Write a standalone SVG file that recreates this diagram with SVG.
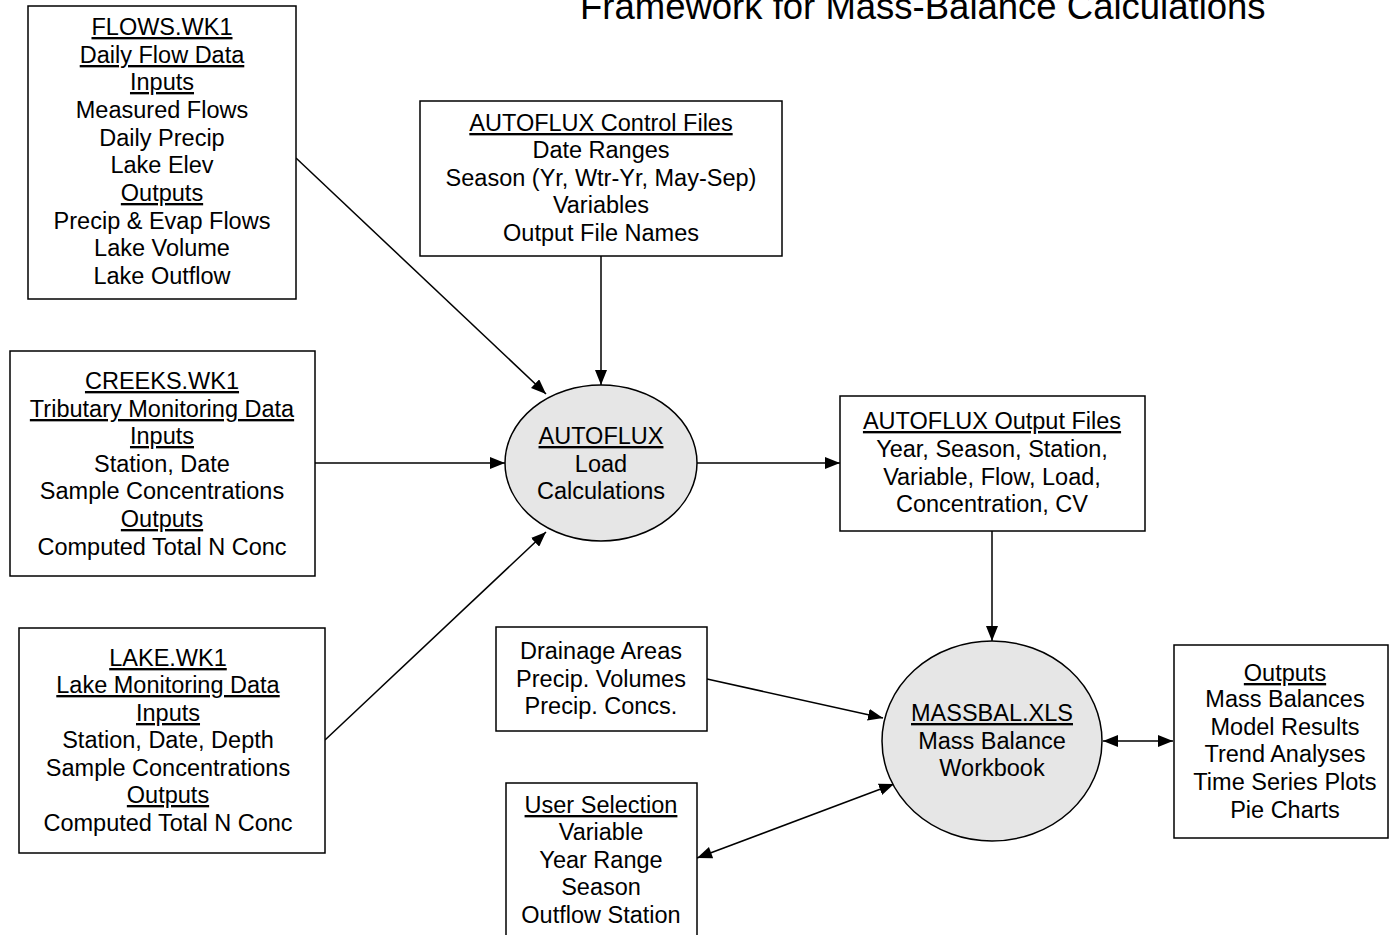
<svg xmlns="http://www.w3.org/2000/svg" width="1389" height="935" viewBox="0 0 1389 935">
<defs>
<style>
text{font-family:"Liberation Sans",Arial,sans-serif;font-size:23.5px;fill:#000;text-anchor:middle}
.u{text-decoration:underline}
.box{fill:#fff;stroke:#000;stroke-width:1.5}
.ell{fill:#e6e6e6;stroke:#000;stroke-width:1.5}
.c{stroke:#000;stroke-width:1.5;fill:none}
.t{font-size:36.5px;text-anchor:start}
</style>
<marker id="ae" markerUnits="userSpaceOnUse" markerWidth="16" markerHeight="12" refX="15" refY="6" orient="auto"><path d="M0,0 L15,6 L0,12 Z" fill="#000"/></marker>
<marker id="as" markerUnits="userSpaceOnUse" markerWidth="16" markerHeight="12" refX="0" refY="6" orient="auto"><path d="M15,0 L0,6 L15,12 Z" fill="#000"/></marker>
</defs>
<rect width="1389" height="935" fill="#fff"/>
<text class="t" x="580" y="19">Framework for Mass-Balance Calculations</text>
<g id="connectors">
<line class="c" x1="296" y1="158" x2="546" y2="394" marker-end="url(#ae)"/>
<line class="c" x1="601" y1="256" x2="601" y2="385" marker-end="url(#ae)"/>
<line class="c" x1="315" y1="463" x2="505" y2="463" marker-end="url(#ae)"/>
<line class="c" x1="325" y1="740" x2="546" y2="532" marker-end="url(#ae)"/>
<line class="c" x1="697" y1="463" x2="840" y2="463" marker-end="url(#ae)"/>
<line class="c" x1="992" y1="531" x2="992" y2="641" marker-end="url(#ae)"/>
<line class="c" x1="707" y1="679" x2="883" y2="718" marker-end="url(#ae)"/>
<line class="c" x1="697" y1="858" x2="894" y2="784" marker-start="url(#as)" marker-end="url(#ae)"/>
<line class="c" x1="1103" y1="741" x2="1173" y2="741" marker-start="url(#as)" marker-end="url(#ae)"/>
</g>
<g id="flows">
<rect class="box" x="28" y="6" width="268" height="293"/>
<text x="162" y="35" class="u">FLOWS.WK1</text>
<text x="162" y="63" class="u">Daily Flow Data</text>
<text x="162" y="90" class="u">Inputs</text>
<text x="162" y="118">Measured Flows</text>
<text x="162" y="146">Daily Precip</text>
<text x="162" y="173">Lake Elev</text>
<text x="162" y="201" class="u">Outputs</text>
<text x="162" y="229">Precip &amp; Evap Flows</text>
<text x="162" y="256">Lake Volume</text>
<text x="162" y="284">Lake Outflow</text>
</g>
<g id="control">
<rect class="box" x="420" y="101" width="362" height="155"/>
<text x="601" y="131" class="u">AUTOFLUX Control Files</text>
<text x="601" y="158">Date Ranges</text>
<text x="601" y="186">Season (Yr, Wtr-Yr, May-Sep)</text>
<text x="601" y="213">Variables</text>
<text x="601" y="241">Output File Names</text>
</g>
<g id="creeks">
<rect class="box" x="10" y="351" width="305" height="225"/>
<text x="162" y="389" class="u">CREEKS.WK1</text>
<text x="162" y="417" class="u">Tributary Monitoring Data</text>
<text x="162" y="444" class="u">Inputs</text>
<text x="162" y="472">Station, Date</text>
<text x="162" y="499">Sample Concentrations</text>
<text x="162" y="527" class="u">Outputs</text>
<text x="162" y="555">Computed Total N Conc</text>
</g>
<g id="lake">
<rect class="box" x="19" y="628" width="306" height="225"/>
<text x="168" y="666" class="u">LAKE.WK1</text>
<text x="168" y="693" class="u">Lake Monitoring Data</text>
<text x="168" y="721" class="u">Inputs</text>
<text x="168" y="748">Station, Date, Depth</text>
<text x="168" y="776">Sample Concentrations</text>
<text x="168" y="803" class="u">Outputs</text>
<text x="168" y="831">Computed Total N Conc</text>
</g>
<g id="autoflux">
<ellipse class="ell" cx="601" cy="463" rx="96" ry="78"/>
<text x="601" y="444" class="u">AUTOFLUX</text>
<text x="601" y="472">Load</text>
<text x="601" y="499">Calculations</text>
</g>
<g id="outfiles">
<rect class="box" x="840" y="396" width="305" height="135"/>
<text x="992" y="429" class="u">AUTOFLUX Output Files</text>
<text x="992" y="457">Year, Season, Station,</text>
<text x="992" y="485">Variable, Flow, Load,</text>
<text x="992" y="512">Concentration, CV</text>
</g>
<g id="drainage">
<rect class="box" x="496" y="627" width="211" height="104"/>
<text x="601" y="659">Drainage Areas</text>
<text x="601" y="687">Precip. Volumes</text>
<text x="601" y="714">Precip. Concs.</text>
</g>
<g id="massbal">
<ellipse class="ell" cx="992" cy="741" rx="110" ry="100"/>
<text x="992" y="721" class="u">MASSBAL.XLS</text>
<text x="992" y="749">Mass Balance</text>
<text x="992" y="776">Workbook</text>
</g>
<g id="outputs">
<rect class="box" x="1174" y="645" width="214" height="193"/>
<text x="1285" y="681" class="u">Outputs</text>
<text x="1285" y="707">Mass Balances</text>
<text x="1285" y="735">Model Results</text>
<text x="1285" y="762">Trend Analyses</text>
<text x="1285" y="790">Time Series Plots</text>
<text x="1285" y="818">Pie Charts</text>
</g>
<g id="user">
<rect class="box" x="506" y="783" width="191" height="160"/>
<text x="601" y="813" class="u">User Selection</text>
<text x="601" y="840">Variable</text>
<text x="601" y="868">Year Range</text>
<text x="601" y="895">Season</text>
<text x="601" y="923">Outflow Station</text>
</g>
</svg>
